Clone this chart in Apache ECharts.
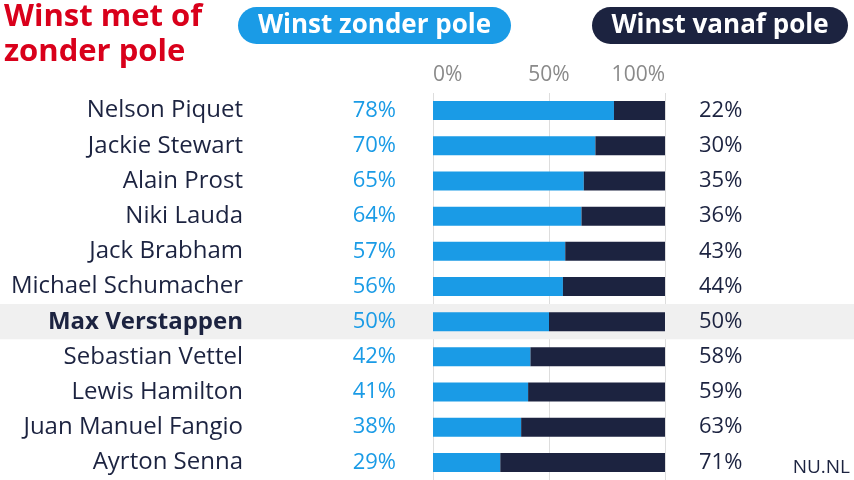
<!DOCTYPE html>
<html><head><meta charset="utf-8">
<script src="https://cdn.jsdelivr.net/npm/echarts@6/dist/echarts.min.js"></script>
<style>html,body{margin:0;padding:0;background:#fff}#c{width:854px;height:480px}</style>
</head><body><div id="c"></div>
<script>
const drivers = ['Nelson Piquet','Jackie Stewart','Alain Prost','Niki Lauda','Jack Brabham','Michael Schumacher','Max Verstappen','Sebastian Vettel','Lewis Hamilton','Juan Manuel Fangio','Ayrton Senna'];
const zonderPole = [78,70,65,64,57,56,50,42,41,38,29];
const vanafPole = [22,30,35,36,43,44,50,58,59,63,71];
const highlight = 'Max Verstappen';
const xTicks = [0,50,100];

const BLUE = '#1a9be6', DARK = '#1c2340', FONT = '"Open Sans", sans-serif';
const chart = echarts.init(document.getElementById('c'));
const gTop = 93, gH = 389;
chart.setOption({
  animation: false,
  textStyle: {fontFamily: FONT},
  title: [
    {text: 'Winst met of\nzonder pole', left: 4, top: 0, padding: 0, textStyle: {color: '#d9001b', fontSize: 31, fontWeight: 'bold', lineHeight: 35, fontFamily: FONT}},
    {text: 'NU.NL', right: 4, bottom: 3, padding: 0, textStyle: {color: DARK, fontSize: 19, fontWeight: 'normal', fontFamily: FONT}}
  ],
  graphic: [
    {type: 'group', left: 238, top: 7, children: [
      {type: 'rect', shape: {x: 0, y: 0, width: 273, height: 37, r: 18.5}, style: {fill: BLUE}},
      {type: 'text', x: 136.5, y: 18.5, style: {text: 'Winst zonder pole', fill: '#fff', font: 'bold 26px ' + FONT, align: 'center', verticalAlign: 'middle'}}
    ]},
    {type: 'group', left: 592, top: 7, children: [
      {type: 'rect', shape: {x: 0, y: 0, width: 256, height: 37, r: 18.5}, style: {fill: DARK}},
      {type: 'text', x: 128, y: 18.5, style: {text: 'Winst vanaf pole', fill: '#fff', font: 'bold 26px ' + FONT, align: 'center', verticalAlign: 'middle'}}
    ]}
  ],
  grid: [
    {left: 0, right: 0, top: gTop, height: gH},
    {left: 433, right: 189, top: gTop, height: gH}
  ],
  xAxis: [
    {gridIndex: 0, type: 'value', min: 0, max: 1, show: false},
    {gridIndex: 1, type: 'value', position: 'top', min: xTicks[0], max: xTicks[2], interval: xTicks[1],
     axisLine: {show: false}, axisTick: {show: false},
     splitLine: {show: true, lineStyle: {color: '#dddddd', width: 1}},
     axisLabel: {formatter: '{value}%', color: '#8a8a8a', fontSize: 21, margin: 7, alignMinLabel: 'left', alignMaxLabel: 'right', fontFamily: FONT}}
  ],
  yAxis: [
    {gridIndex: 0, type: 'category', data: drivers, inverse: true, show: false},
    {gridIndex: 1, type: 'category', data: drivers, inverse: true,
     axisLine: {show: false}, axisTick: {show: false},
     axisLabel: {margin: 190, fontSize: 24, color: DARK, fontFamily: FONT,
       formatter: v => v === highlight ? '{b|' + v + '}' : v,
       rich: {b: {fontWeight: 'bold', fontSize: 24, color: DARK, fontFamily: FONT}}}}
  ],
  series: [
    {type: 'bar', xAxisIndex: 0, yAxisIndex: 0, barWidth: '100%', silent: true,
     data: drivers.map(d => d === highlight ? 1 : '-'), itemStyle: {color: '#f0f0f0'}, z: 0},
    {name: 'Winst zonder pole', type: 'bar', xAxisIndex: 1, yAxisIndex: 1, stack: 'a', barWidth: 19,
     data: zonderPole, itemStyle: {color: BLUE},
     label: {show: true, position: 'left', distance: 37, formatter: '{c}%', color: BLUE, fontSize: 22, fontFamily: FONT}},
    {name: 'Winst vanaf pole', type: 'bar', xAxisIndex: 1, yAxisIndex: 1, stack: 'a', barWidth: 19,
     data: vanafPole, itemStyle: {color: DARK},
     label: {show: true, position: 'right', distance: 34, formatter: '{c}%', color: DARK, fontSize: 22, fontFamily: FONT}}
  ]
});
</script></body></html>
